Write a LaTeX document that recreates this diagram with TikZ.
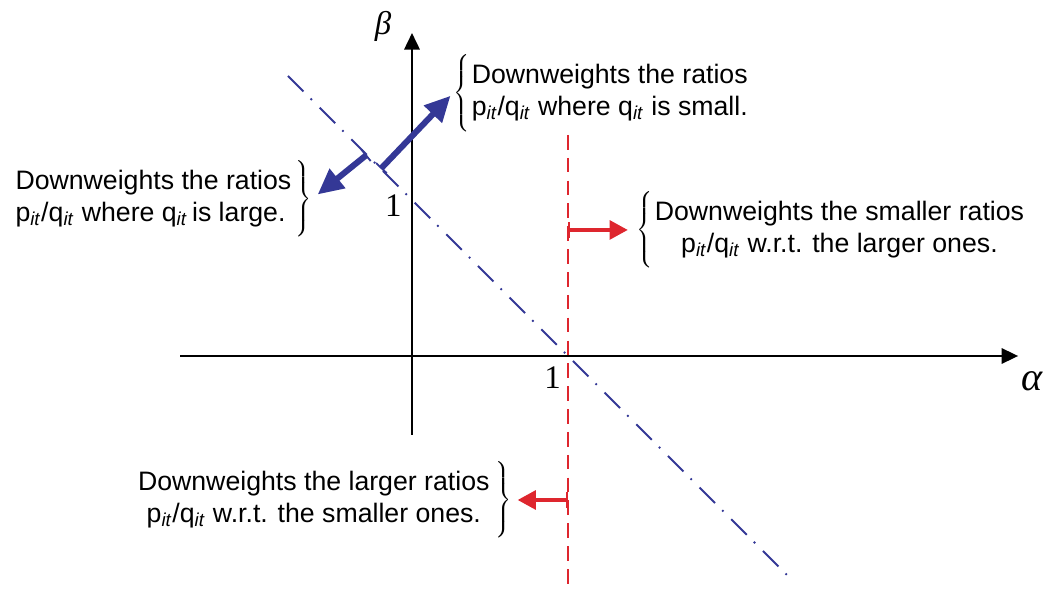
\documentclass[tikz,border=0pt]{standalone}
\usepackage{fontspec}
\setmainfont{Liberation Sans}
\newfontfamily\numfont{Liberation Serif}
\usetikzlibrary{arrows.meta}
\definecolor{axisblue}{RGB}{52,56,150}
\definecolor{cutred}{RGB}{222,38,46}
\newcommand{\pq}{p\textsubscript{\textit{it}}/q\textsubscript{\textit{it}}}
\newcommand{\lbr}{$\left\{\vcenter{\hbox{\rule{0pt}{41pt}}}\right.$}
\newcommand{\rbr}{$\left.\vcenter{\hbox{\rule{0pt}{41pt}}}\right\}$}
\begin{document}
\begin{tikzpicture}[x=3cm,y=3cm,
    every node/.style={font=\fontsize{14.6}{17.5}\selectfont,inner sep=0pt},
    biglabel/.style={font=\fontsize{18}{20}\selectfont\numfont},
    axisarrow/.style={-{Triangle[length=9pt,width=8.5pt]},line width=0.8pt},
    bluearrow/.style={axisblue,line width=3.3pt,
        {Bar[width=8pt,line width=1pt]}-{Triangle[length=14pt,width=13pt]}},
    redarrow/.style={cutred,line width=2.5pt,
        {Bar[width=9pt,line width=1.2pt]}-{Triangle[length=10pt,width=10pt]}}]
    \useasboundingbox (-2.641,-1.494) rectangle (4.064,2.282);
    % axes
    \draw[axisarrow] (-1.487,0) -- (3.885,0);
    \draw[axisarrow] (0,-0.506) -- (0,2.07);
    \node[biglabel] (betalab) at (-0.186,2.11) {\itshape β};
    \node[biglabel,font=\fontsize{22}{24}\selectfont\numfont] (alphalab) at (3.974,-0.163) {\itshape α};
    \node[biglabel] (oneb) at (-0.119,0.962) {1};
    \node[biglabel] (onea) at (0.901,-0.141) {1};
    % alpha+beta=1 and alpha=1
    \draw[axisblue,line width=1pt,dash pattern=on 12pt off 5.5pt on 1pt off 6pt]
        (-0.795,1.795) -- (2.41,-1.41);
    \coordinate (redtop) at (1,1.417);
    \draw[cutred,line width=1.5pt,dash pattern=on 8pt off 4.5pt] (redtop) -- (1,-1.494);
    % texts
    \node[anchor=west] (smallq) at (0.263,1.685) {\lbr\begin{tabular}{@{}l@{}}
        Downweights the ratios\\ \pq{} where q\textsubscript{\textit{it}} is small.\end{tabular}};
    \node[anchor=east] (largeq) at (-0.641,1.006) {\begin{tabular}{@{}l@{}}
        Downweights the ratios\\ \pq{} where q\textsubscript{\textit{it}}\,is large.\end{tabular}\hspace{1pt}\rbr};
    \node[anchor=west] (smallratio) at (1.436,0.808) {\lbr\begin{tabular}{@{}c@{}}
        Downweights the smaller ratios\\ \pq{} w.r.t. the larger ones.\end{tabular}};
    \node[anchor=east] (largeratio) at (0.641,-0.923) {\begin{tabular}{@{}c@{}}
        Downweights the larger ratios\\ \pq{} w.r.t. the smaller ones.\end{tabular}\hspace{2pt}\rbr};
    % arrows
    \coordinate (upbase) at (-0.2,1.2);
    \coordinate (downbase) at (-0.29,1.29);
    \draw[bluearrow,shorten >=2pt] (upbase) -- (smallq.west);
    \draw[bluearrow,shorten >=4pt] (downbase) -- (largeq.east);
    \draw[redarrow,shorten >=4.4pt] (smallratio.west -| redtop) -- (smallratio.west);
    \draw[redarrow,shorten >=3pt] (largeratio.east -| redtop) -- (largeratio.east);
\end{tikzpicture}
\end{document}
